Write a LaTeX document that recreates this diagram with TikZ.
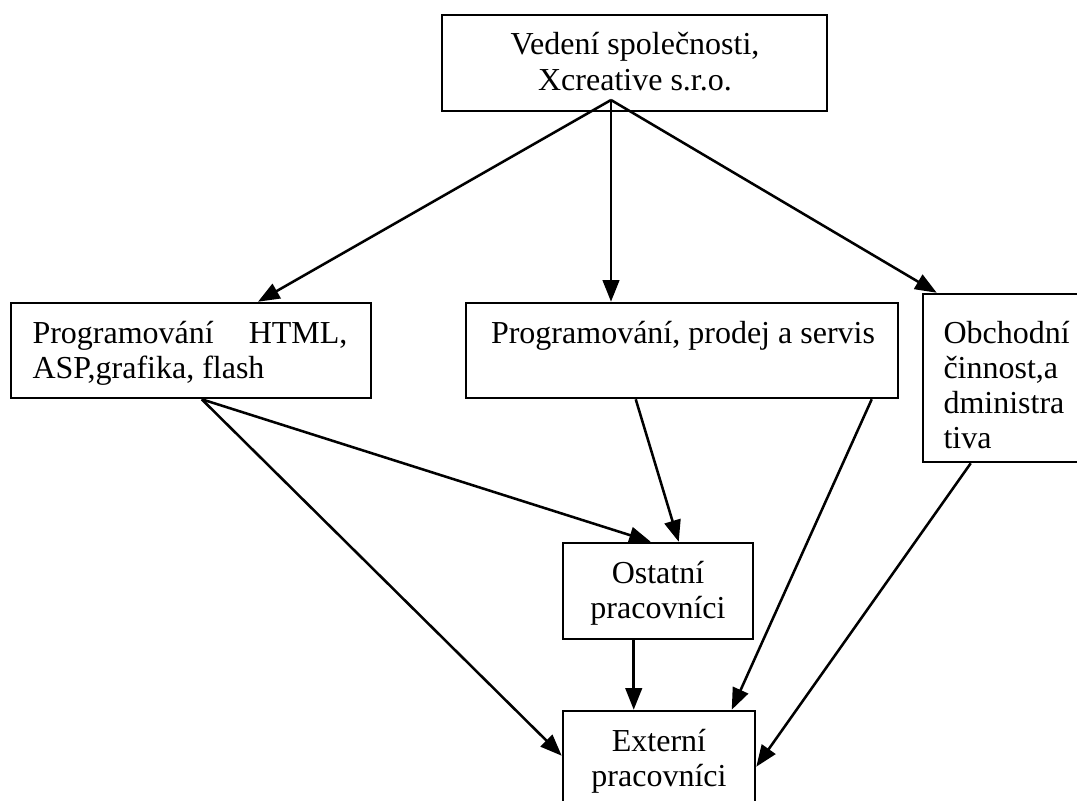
\documentclass[tikz,border=0pt]{standalone}
\usepackage{fontspec}
\setmainfont{Liberation Serif}
\usetikzlibrary{calc,arrows.meta}
\tikzset{
  box/.style={draw, line width=1pt, rectangle, inner sep=0pt},
  txt/.style={inner sep=0pt, font=\fontsize{12.6}{13.8}\selectfont},
  arr/.style={line width=1pt, -{Triangle[length=8.5pt,width=6.5pt]}},
}
\begin{document}
\begin{tikzpicture}[x=0.3937pt, y=-0.3937pt]
\clip (0,0) rectangle (1077,801);
% boxes
\node[box, minimum width={385*0.3937pt}, minimum height={96*0.3937pt}] (top) at (634.5,63) {};
\node[box, minimum width={360*0.3937pt}, minimum height={95*0.3937pt}] (lbox) at (191,350.5) {};
\node[box, minimum width={432*0.3937pt}, minimum height={95*0.3937pt}] (mbox) at (682,350.5) {};
\node[box, minimum width={177*0.3937pt}, minimum height={168*0.3937pt}] (rbox) at (1011.5,378) {};
\node[box, minimum width={190*0.3937pt}, minimum height={96*0.3937pt}] (obox) at (658,591) {};
\node[box, minimum width={192*0.3937pt}, minimum height={129*0.3937pt}] (ebox) at (659,775.5) {};
% texts
\node[txt, anchor=base] (toptxt) at (635,55) {\begin{tabular}[t]{@{}c@{}}Vedení společnosti,\\Xcreative s.r.o.\end{tabular}};
\node[txt, anchor=base west] (ltxt) at (32,343) {\begin{tabular}[t]{@{}l@{}}\hbox to 124pt{Programování\hfill HTML,}\\ASP,grafika, flash\end{tabular}};
\node[txt, anchor=base] (mtxt) at (683,343) {Programování, prodej a servis};
\node[txt, anchor=base west] (rtxt) at (943,343) {\begin{tabular}[t]{@{}l@{}}Obchodní\\činnost,a\\dministra\\tiva\end{tabular}};
\node[txt, anchor=base] (otxt) at (658,583) {\begin{tabular}[t]{@{}c@{}}Ostatní\\pracovníci\end{tabular}};
\node[txt, anchor=base] (etxt) at (659,751) {\begin{tabular}[t]{@{}c@{}}Externí\\pracovníci\end{tabular}};
% connector points
\coordinate (hub) at (611,100);
\coordinate (lsrc) at ($(lbox.south west)+(192,0)$);
\coordinate (msrc1) at ($(mbox.south west)+(171,0)$);
\coordinate (msrc2) at ($(mbox.south west)+(407,0)$);
% connectors
\draw[arr] (hub) -- ($(lbox.north)+(67,0)$);
\draw[arr] (hub) -- ($(mbox.north)+(-71,0)$);
\draw[arr] (hub) -- ($(rbox.north west)+(15,0)$);
\draw[arr] (lsrc) -- ($(obox.north west)+(89,0)$);
\draw[arr] (lsrc) -- ($(ebox.north west)+(0,46)$);
\draw[arr] (msrc1) -- ($(obox.north west)+(117,0)$);
\draw[arr] (msrc2) -- ($(ebox.north west)+(170,0)$);
\draw[arr] ($(obox.south west)+(72,0)$) -- ($(ebox.north west)+(72,0)$);
\draw[arr] ($(rbox.south west)+(49,0)$) -- ($(ebox.north east)+(0,57)$);
\end{tikzpicture}
\end{document}
